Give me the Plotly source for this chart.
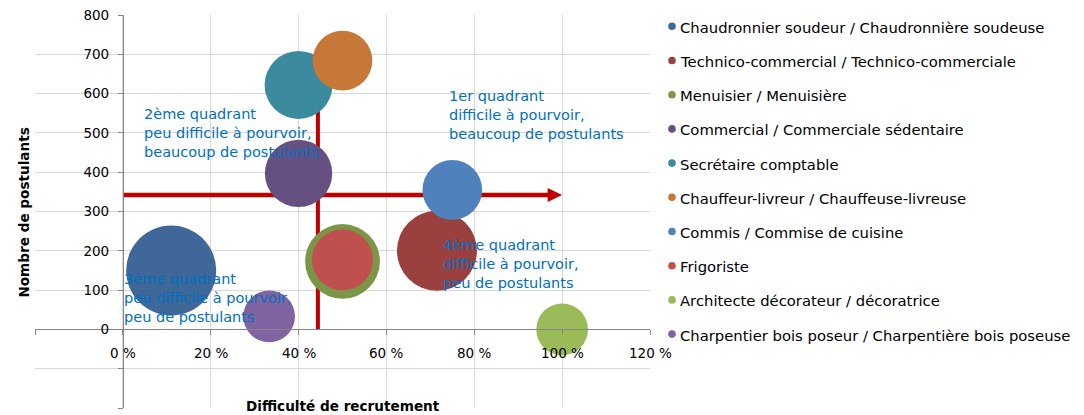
import plotly.graph_objects as go

# ---- data ----
jobs = [
    "Chaudronnier soudeur / Chaudronnière soudeuse",
    "Technico-commercial / Technico-commerciale",
    "Menuisier / Menuisière",
    "Commercial / Commerciale sédentaire",
    "Secrétaire comptable",
    "Chauffeur-livreur / Chauffeuse-livreuse",
    "Commis / Commise de cuisine",
    "Frigoriste",
    "Architecte décorateur / décoratrice",
    "Charpentier bois poseur / Charpentière bois poseuse",
]
difficulty = [11, 71.5, 50, 40, 40, 50, 75, 50, 100, 33.3]      # % difficulté de recrutement
applicants = [150, 200, 173, 397, 622, 684, 355, 177, 0, 33]    # nombre de postulants
bubble_size = [100, 79, 69, 56, 57, 44, 44, 46, 33, 33]         # taille relative des bulles
colors = ["#3F6797", "#9A403E", "#7C9647", "#665082", "#3C8A9E",
          "#C67838", "#4F81BD", "#C0504D", "#9BBB59", "#8064A2"]

x_tickvals = [-20, 0, 20, 40, 60, 80, 100, 120]
x_ticktext = ["", "0 %", "20 %", "40 %", "60 %", "80 %", "100 %", "120 %"]
y_tickvals = [-200, -100, 0, 100, 200, 300, 400, 500, 600, 700, 800]
y_ticktext = ["", "", "0", "100", "200", "300", "400", "500", "600", "700", "800"]

threshold_x = 44.4    # séparation difficulté
threshold_y = 342     # séparation postulants
arrow_end_x = 100
arrow_end_y = 650

quadrants = [
    ("2ème quadrant<br>peu difficile à pourvoir,<br>beaucoup de postulants", 4.3, 500),
    ("1er quadrant<br>difficile à pourvoir,<br>beaucoup de postulants", 73.7, 546),
    ("3ème quadrant<br>peu difficile à pourvoir,<br>peu de postulants", -0.3, 80),
    ("4ème quadrant<br>difficile à pourvoir,<br>peu de postulants", 72.5, 166),
]

FONT = "DejaVu Sans"
RED = "#C00000"
W, H = 1084, 415
ML, MR, MT, MB = 35, 434, 15, 7
PW, PH = W - ML - MR, H - MT - MB


def px2x(px):
    return (px - ML) / PW


def px2y(py):
    return (H - MB - py) / PH


fig = go.Figure()

# quadrant separators (under the bubbles)
fig.add_trace(go.Scatter(x=[0, arrow_end_x - 3], y=[threshold_y, threshold_y], mode="lines",
                         line=dict(color=RED, width=4.5), showlegend=False, hoverinfo="skip"))
fig.add_trace(go.Scatter(x=[threshold_x, threshold_x], y=[0, arrow_end_y], mode="lines",
                         line=dict(color=RED, width=4), showlegend=False, hoverinfo="skip"))

sizeref = 2.0 * max(bubble_size) / (90 ** 2)
for name, xv, yv, sv, c in zip(jobs, difficulty, applicants, bubble_size, colors):
    fig.add_trace(go.Scatter(
        x=[xv], y=[yv], mode="markers", name=name, showlegend=False,
        marker=dict(size=[sv], sizemode="area", sizeref=sizeref, color=c, opacity=1,
                    line=dict(width=0)),
    ))

# arrow head for the horizontal separator
ah_w = 3.3
ah_h = 18
fig.add_shape(type="path",
              path=f"M {arrow_end_x - ah_w} {threshold_y - ah_h} L {arrow_end_x} {threshold_y} "
                   f"L {arrow_end_x - ah_w} {threshold_y + ah_h} Z",
              fillcolor=RED, line=dict(width=0), layer="above")

for txt, xv, yv in quadrants:
    fig.add_annotation(x=xv, y=yv, xref="x", yref="y", text=txt, showarrow=False,
                       xanchor="left", yanchor="middle", align="left",
                       font=dict(family=FONT, size=14.5, color="#0070C0"))

# x tick labels, drawn above the bubbles (as in the reference)
for tv, tt in zip(x_tickvals, x_ticktext):
    if tt:
        fig.add_annotation(x=tv, y=0, xref="x", yref="y", text=tt, showarrow=False,
                           xanchor="center", yanchor="middle", yshift=-24,
                           font=dict(family=FONT, size=13.5, color="#000000"))

# legend (series names and colours)
LEG_DOT_X, LEG_TEXT_X, LEG_Y0, LEG_DY, DOT_R = 672, 678, 27.3, 34.2, 3.8
for i, (name, c) in enumerate(zip(jobs, colors)):
    cy = LEG_Y0 + i * LEG_DY
    fig.add_shape(type="circle", xref="paper", yref="paper",
                  x0=px2x(LEG_DOT_X - DOT_R), x1=px2x(LEG_DOT_X + DOT_R),
                  y0=px2y(cy - 1 + DOT_R), y1=px2y(cy - 1 - DOT_R),
                  fillcolor=c, line=dict(width=0))
    fig.add_annotation(x=px2x(LEG_TEXT_X), y=px2y(cy), xref="paper", yref="paper", text=name,
                       showarrow=False, xanchor="left", yanchor="middle",
                       font=dict(family=FONT, size=14.8, color="#000000"))

fig.add_annotation(x=0.5, y=0, xref="paper", yref="paper", text="<b>Difficulté de recrutement</b>",
                   showarrow=False, xanchor="center", yanchor="middle", yshift=2,
                   font=dict(family=FONT, size=13.6, color="#000000"))
fig.add_annotation(x=-0.018, y=0.497, xref="paper", yref="paper", text="<b>Nombre de postulants</b>",
                   showarrow=False, textangle=-90, xanchor="center", yanchor="middle",
                   font=dict(family=FONT, size=13.6, color="#000000"))

fig.update_layout(
    width=W, height=H,
    margin=dict(l=ML, r=MR, t=MT, b=MB, autoexpand=False),
    paper_bgcolor="white", plot_bgcolor="white",
    font=dict(family=FONT, size=13.5, color="#000000"),
    showlegend=False,
    xaxis=dict(range=[-20, 120], tickvals=x_tickvals, ticktext=x_ticktext, showticklabels=False,
               showgrid=True, gridcolor="#D9D9D9", gridwidth=1, zeroline=False,
               showline=True, linecolor="#868686", linewidth=1,
               ticks="outside", ticklen=5, tickcolor="#868686",
               anchor="free", position=0.2),
    yaxis=dict(range=[-200, 800], tickvals=y_tickvals, ticktext=y_ticktext,
               showgrid=True, gridcolor="#D9D9D9", gridwidth=1, zeroline=False,
               showline=True, linecolor="#868686", linewidth=1,
               ticks="outside", ticklen=5, tickcolor="#868686",
               anchor="free", position=1 / 7, ticklabelstandoff=6,
               tickfont=dict(family=FONT, size=13.5, color="#000000")),
)

fig.write_html("out.html", config={"displayModeBar": False},
               post_script="document.body.style.margin='0px';document.body.style.overflow='hidden';")
